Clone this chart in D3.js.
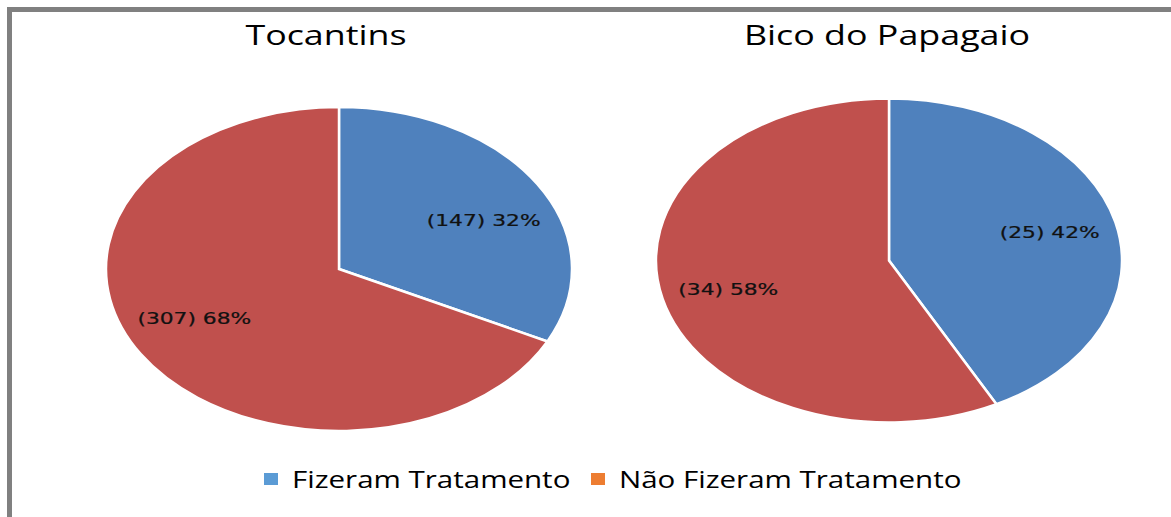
<!DOCTYPE html>
<html lang="pt">
<head>
    <meta charset="utf-8">
    <style>
        body { margin: 0; background: #fff; }
        .title, .legend-text { font-family: "Open Sans", sans-serif; fill: #000; }
        .label { font-family: "DejaVu Sans", sans-serif; fill: #111; stroke: #111; stroke-width: 0.25px; }
    </style>
    <script src="https://d3js.org/d3.v7.min.js"></script>
</head>
<body>
    <svg width="1171" height="517"></svg>
    <script>
        // data
        var regions = ["Tocantins", "Bico do Papagaio"];
        var fizeram = [147, 25];
        var naoFizeram = [307, 34];
        var seriesNames = ["Fizeram Tratamento", "Não Fizeram Tratamento"];
        var sliceColors = ["#4F81BD", "#C0504D"];
        var legendColors = ["#5B9BD5", "#ED7D31"];

        var svg = d3.select("svg");

        // outer frame (runs off right/bottom edge like in the picture)
        svg.append("rect")
            .attr("x", 9.5).attr("y", 9.5)
            .attr("width", 1300).attr("height", 700)
            .attr("fill", "none")
            .attr("stroke", "#808080")
            .attr("stroke-width", 5);

        var stretchTitle = 1.28, stretchLabel = 1.32, stretchLegend = 1.23;

        var centers = d3.scalePoint().domain(regions).range([339, 889]);
        var cy = { "Tocantins": 269, "Bico do Papagaio": 260.5 };
        var rx = 233, ry = 162;
        // label placement as fraction of radius (x, y), per pie
        var labelPos = { "Tocantins": [0.73, 0.57], "Bico do Papagaio": [0.71, 0.75] };

        var pie = d3.pie().sort(null).value(function(d) { return d.value; });
        var arc = d3.arc().innerRadius(0).outerRadius(ry);

        function addText(sel, cls, x, y, size, stretch, anchor, txt) {
            return sel.append("text")
                .attr("class", cls)
                .attr("transform", "translate(" + x + "," + y + ") scale(" + stretch + ",1)")
                .attr("font-size", size + "px")
                .attr("text-anchor", anchor)
                .text(txt);
        }

        regions.forEach(function(r, i) {
            var cx = centers(r);
            var data = [
                { name: seriesNames[0], value: fizeram[i] },
                { name: seriesNames[1], value: naoFizeram[i] }
            ];
            var total = fizeram[i] + naoFizeram[i];
            var arcs = pie(data);

            var g = svg.append("g")
                .attr("transform", "translate(" + cx + "," + cy[r] + ") scale(" + (rx / ry) + ",1)");

            g.selectAll("path")
                .data(arcs)
                .enter().append("path")
                .attr("d", arc)
                .attr("fill", function(d, j) { return sliceColors[j]; })
                .attr("stroke", "#fff")
                .attr("stroke-width", 2.5)
                .attr("vector-effect", "non-scaling-stroke");

            addText(svg, "title", cx - 13 + (i * 11), 45, 28, stretchTitle, "middle", r);

            arcs.forEach(function(d) {
                var a = (d.startAngle + d.endAngle) / 2;
                var lx = cx + rx * labelPos[r][0] * Math.sin(a);
                var ly = cy[r] - ry * labelPos[r][1] * Math.cos(a);
                var pct = Math.round(d.value / total * 100);
                addText(svg, "label", lx, ly + 6, 16.5, stretchLabel, "middle",
                    "(" + d.value + ") " + pct + "%");
            });
        });

        // legend
        var legend = svg.append("g");
        var legX = [264, 591];
        seriesNames.forEach(function(n, i) {
            legend.append("rect")
                .attr("x", legX[i]).attr("y", 473)
                .attr("width", 14).attr("height", 12)
                .attr("fill", legendColors[i]);
            addText(legend, "legend-text", legX[i] + 28, 488, 24, stretchLegend, "start", n);
        });
    </script>
</body>
</html>
